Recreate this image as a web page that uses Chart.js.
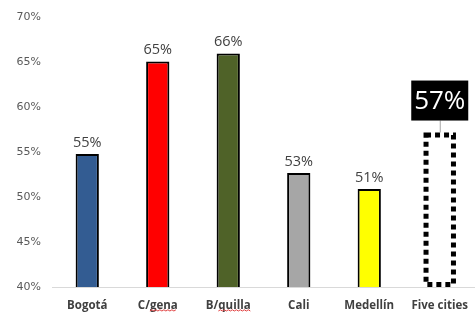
<!DOCTYPE html>
<html>
<head>
<meta charset="utf-8">
<script src="https://cdn.jsdelivr.net/npm/chart.js@4/dist/chart.umd.min.js"></script>
<style>
html,body{margin:0;padding:0;background:#fff;}
#wrap{width:475px;height:313px;position:relative;}
</style>
</head>
<body>
<div id="wrap"><canvas id="c"></canvas></div>
<script>
const categories = ["Bogotá", "C/gena", "B/quilla", "Cali", "Medellín", "Five cities"];
const values = [54.8, 65.1, 66.0, 52.7, 50.9, 57.2];
const valueLabels = ["55%", "65%", "66%", "53%", "51%", "57%"];
const barColors = ["#335C92", "#FF0000", "#4F6228", "#A6A6A6", "#FFFF00", "#FFFFFF"];
const yTicks = [40, 45, 50, 55, 60, 65, 70];
// spell-check squiggle: [category index, prefix not underlined]
const squiggles = [[1, "C/"], [2, "B/"]];

const cityData = values.map((v, i) => i < 5 ? v : null);
const totalData = values.map((v, i) => i === 5 ? v : null);
const xFont = { family: '"Open Sans"', size: 11.5, weight: 'bold' };

const labelPlugin = {
  id: 'valLabels',
  afterDatasetsDraw(chart) {
    const ctx = chart.ctx;
    const ys = chart.scales.y, xs = chart.scales.x;
    const m0 = chart.getDatasetMeta(0);
    const m1 = chart.getDatasetMeta(1);
    ctx.save();
    m0.data.forEach((el, i) => {
      if (cityData[i] == null) return;
      ctx.font = '14.5px "Open Sans"';
      ctx.fillStyle = '#404040';
      ctx.textAlign = 'center';
      ctx.textBaseline = 'bottom';
      ctx.fillText(valueLabels[i], el.x, el.y - 4);
    });
    m1.data.forEach((el, i) => {
      if (totalData[i] == null) return;
      const x = el.x, top = el.y, w = el.width;
      const base = ys.getPixelForValue(ys.min);
      const left = x - w / 2;
      ctx.strokeStyle = '#000';
      ctx.lineWidth = 5;
      ctx.setLineDash([5, 4]);
      ctx.strokeRect(left + 2.5, top + 2.5, w - 5, base - top - 5);
      ctx.setLineDash([]);
      ctx.strokeStyle = '#A6A6A6';
      ctx.lineWidth = 1;
      ctx.beginPath();
      ctx.moveTo(x + 0.5, top - 12);
      ctx.lineTo(x + 0.5, top);
      ctx.stroke();
      const bw = 57, bh = 40;
      ctx.fillStyle = '#000';
      ctx.fillRect(x - bw / 2, top - 12 - bh, bw, bh);
      ctx.font = '26px "Open Sans"';
      ctx.fillStyle = '#fff';
      ctx.textAlign = 'center';
      ctx.textBaseline = 'middle';
      ctx.fillText(valueLabels[i], x, top - 12 - bh / 2 + 1);
    });
    // squiggles
    ctx.font = 'bold 11.5px "Open Sans"';
    ctx.strokeStyle = '#E04040';
    ctx.lineWidth = 1;
    squiggles.forEach(([idx, prefix]) => {
      const full = ctx.measureText(categories[idx]).width;
      const pre = ctx.measureText(prefix).width;
      const cx = xs.getPixelForValue(idx);
      const x0 = cx - full / 2 + pre, x1 = cx + full / 2;
      const y = 311;
      ctx.beginPath();
      let up = true;
      ctx.moveTo(x0, y);
      for (let x = x0 + 2; x <= x1; x += 2) {
        ctx.lineTo(x, up ? y - 1.2 : y);
        up = !up;
      }
      ctx.stroke();
    });
    ctx.restore();
  }
};

new Chart(document.getElementById('c'), {
  type: 'bar',
  data: {
    labels: categories,
    datasets: [
      {
        data: cityData,
        backgroundColor: barColors,
        borderColor: '#000',
        borderWidth: 2,
        borderSkipped: false,
        barPercentage: 0.33,
        categoryPercentage: 1
      },
      {
        data: totalData,
        backgroundColor: 'rgba(0,0,0,0)',
        borderWidth: 0,
        barPercentage: 0.46,
        categoryPercentage: 1
      }
    ]
  },
  options: {
    responsive: true,
    maintainAspectRatio: false,
    animation: false,
    events: [],
    grouped: false,
    layout: { padding: { top: 12, right: 0, left: 0, bottom: 0 } },
    plugins: { legend: { display: false }, tooltip: { enabled: false } },
    scales: {
      x: {
        grid: { display: false },
        border: { display: true, color: '#D9D9D9', width: 1 },
        ticks: {
          color: '#404040',
          font: xFont,
          padding: 4,
          maxRotation: 0,
          autoSkip: false
        },
        afterFit(s) { s.height = 26; }
      },
      y: {
        min: 40,
        max: 70,
        afterBuildTicks(s) { s.ticks = yTicks.map(v => ({ value: v })); },
        grid: { display: false, drawTicks: false },
        border: { display: false },
        ticks: {
          color: '#595959',
          font: { family: '"DejaVu Sans"', size: 11 },
          padding: 11,
          callback: v => v + '%'
        },
        afterFit(s) { s.width = 52; }
      }
    }
  },
  plugins: [labelPlugin]
});
</script>
</body>
</html>
